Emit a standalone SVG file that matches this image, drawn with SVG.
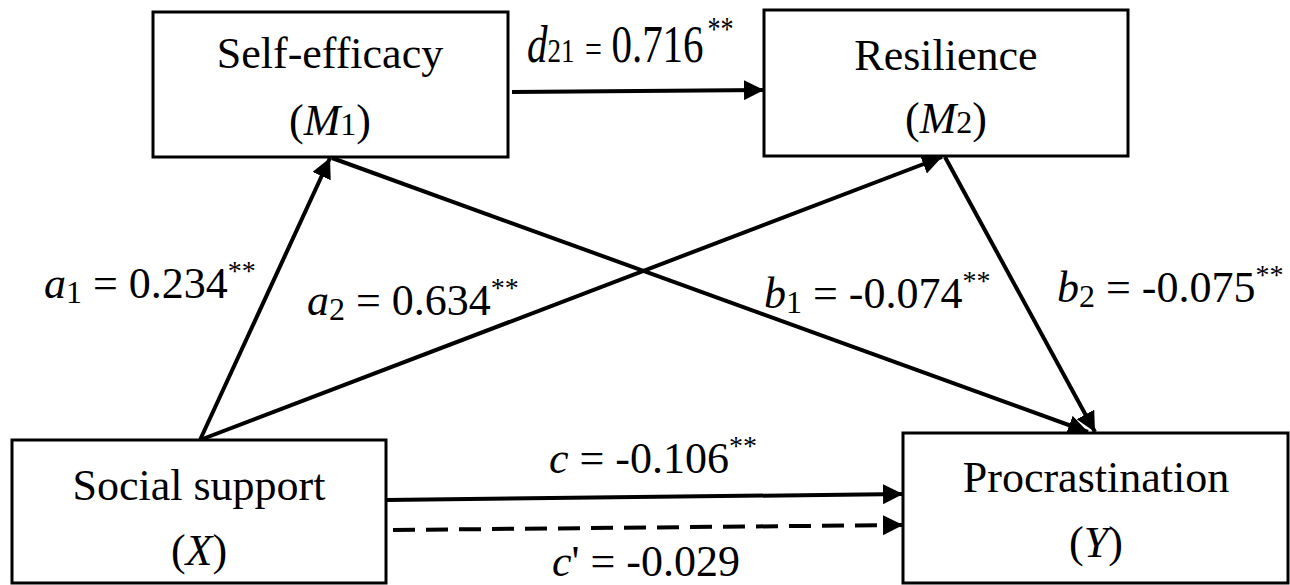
<svg xmlns="http://www.w3.org/2000/svg" width="1290" height="585" viewBox="0 0 1290 585">
<style>
.box{fill:#fff;stroke:#000;stroke-width:3}
text{font-family:'Liberation Serif','Times New Roman',Tinos,'DejaVu Serif',serif;fill:#000}
.nt{font-size:44px;text-anchor:middle}
.lb{font-size:44px}
.it{font-style:italic}
.sub{font-size:32px}
.sup{font-size:28px}
.ln{stroke:#000;stroke-width:4;fill:none}
.dash{stroke-dasharray:22 11}
</style>
<defs>
<marker id="ah" markerUnits="userSpaceOnUse" markerWidth="20" markerHeight="20" refX="20" refY="10" orient="auto">
<path d="M0,0 L20,10 L0,20 z" fill="#000"/>
</marker>
</defs>
<rect width="1290" height="585" fill="#fff"/>
<g id="connectors">
<line class="ln" x1="512" y1="92" x2="764" y2="90" marker-end="url(#ah)"/>
<line class="ln" x1="200" y1="440" x2="330" y2="158" marker-end="url(#ah)"/>
<line class="ln" x1="200" y1="440" x2="942" y2="157" marker-end="url(#ah)"/>
<line class="ln" x1="332" y1="158" x2="1088" y2="432" marker-end="url(#ah)"/>
<line class="ln" x1="945" y1="157" x2="1095" y2="432" marker-end="url(#ah)"/>
<line class="ln" x1="386" y1="500" x2="903" y2="494" marker-end="url(#ah)"/>
<line class="ln dash" x1="393" y1="530" x2="903" y2="525" marker-end="url(#ah)"/>
</g>
<g id="node-m1">
<rect class="box" x="153" y="12" width="355" height="145"/>
<text class="nt" font-family="Liberation Serif, serif" x="330" y="68">Self-efficacy</text>
<text class="nt" font-family="Liberation Serif, serif" x="330" y="135">(<tspan class="it">M</tspan><tspan class="sub">1</tspan>)</text>
</g>
<g id="node-m2">
<rect class="box" x="764" y="10" width="364" height="146"/>
<text class="nt" font-family="Liberation Serif, serif" x="946" y="70">Resilience</text>
<text class="nt" font-family="Liberation Serif, serif" x="946" y="133">(<tspan class="it">M</tspan><tspan class="sub">2</tspan>)</text>
</g>
<g id="node-x">
<rect class="box" x="12" y="440" width="374" height="143"/>
<text class="nt" font-family="Liberation Serif, serif" x="199" y="500">Social support</text>
<text class="nt" font-family="Liberation Serif, serif" x="199" y="565">(<tspan class="it">X</tspan>)</text>
</g>
<g id="node-y">
<rect class="box" x="903" y="433" width="385" height="150"/>
<text class="nt" font-family="Liberation Serif, serif" x="1096" y="492">Procrastination</text>
<text class="nt" font-family="Liberation Serif, serif" x="1096" y="557">(<tspan class="it">Y</tspan>)</text>
</g>
<g id="labels">
<text class="lb" font-family="Liberation Serif, serif" transform="translate(527,62) scale(1,1.28)" style="font-size:41px"><tspan class="it">d</tspan><tspan style="font-size:27px">21</tspan><tspan style="font-size:30px" dx="3"> = </tspan><tspan dx="2">0.716</tspan><tspan style="font-size:26px" dx="4" dy="-17">**</tspan></text>
<text class="lb" font-family="Liberation Serif, serif" x="44" y="298"><tspan class="it">a</tspan><tspan class="sub" dy="5">1</tspan><tspan dy="-5"> = 0.234</tspan><tspan class="sup" dy="-18">**</tspan></text>
<text class="lb" font-family="Liberation Serif, serif" x="307" y="315"><tspan class="it">a</tspan><tspan class="sub" dy="5">2</tspan><tspan dy="-5"> = 0.634</tspan><tspan class="sup" dy="-18">**</tspan></text>
<text class="lb" font-family="Liberation Serif, serif" x="764" y="308"><tspan class="it">b</tspan><tspan class="sub" dy="5">1</tspan><tspan dy="-5"> = -0.074</tspan><tspan class="sup" dy="-18">**</tspan></text>
<text class="lb" font-family="Liberation Serif, serif" x="1057" y="302"><tspan class="it">b</tspan><tspan class="sub" dy="5">2</tspan><tspan dy="-5"> = -0.075</tspan><tspan class="sup" dy="-18">**</tspan></text>
<text class="lb" font-family="Liberation Serif, serif" x="549" y="473"><tspan class="it">c</tspan> = -0.106<tspan class="sup" dy="-18">**</tspan></text>
<text class="lb" font-family="Liberation Serif, serif" x="552" y="576"><tspan class="it">c</tspan>' = -0.029</text>
</g>
</svg>
